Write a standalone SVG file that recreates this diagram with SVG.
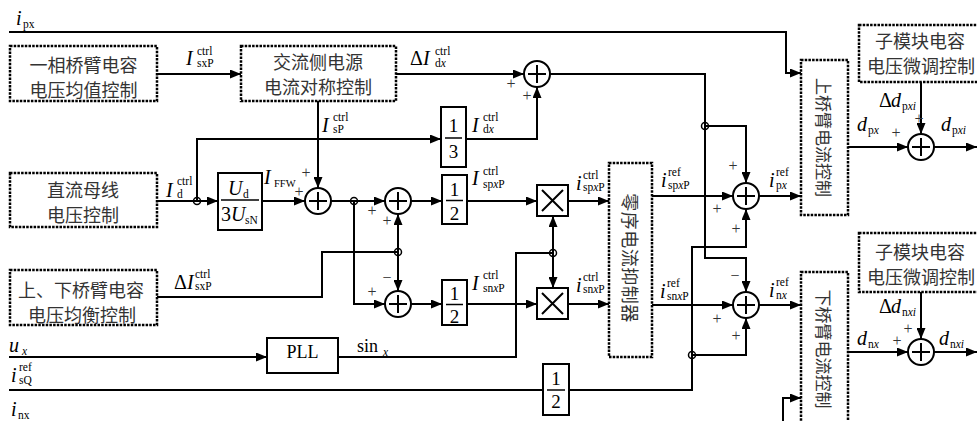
<svg xmlns="http://www.w3.org/2000/svg" width="977" height="421" viewBox="0 0 977 421">
<style>
.ln{stroke:#000;stroke-width:2;fill:none}
.ar{marker-end:url(#a)}
.db{fill:#fff;stroke:#000;stroke-width:2.5;stroke-dasharray:2.5 1.2}
.bx{fill:#fff;stroke:#000;stroke-width:2}
.jn{fill:none;stroke:#000;stroke-width:1.5}
.cn{font-family:"Noto Sans CJK SC",sans-serif;font-size:18px;text-anchor:middle;dominant-baseline:central;fill:#333}
.m{font-family:"Liberation Serif",serif;font-size:20px;font-style:italic}
.u{font-family:"Liberation Serif",serif;font-size:20px}
.s{font-family:"Liberation Serif",serif;font-size:11.5px}
.n{font-family:"Liberation Serif",serif;font-size:19px;text-anchor:middle}
.p{font-family:"Liberation Serif",serif;font-size:16px;text-anchor:middle;dominant-baseline:central;fill:#333}
.it{font-style:italic}
</style>
<defs>
<marker id="a" markerWidth="11" markerHeight="9" refX="11" refY="4.5" orient="auto" markerUnits="userSpaceOnUse"><path d="M0,0 L11,4.5 L0,9 z" fill="#000"/></marker>
</defs>

<g id="connectors">
<path class="ln ar" d="M9,32 H786 V73 H801"/>
<path class="ln ar" d="M157,74 H241"/>
<path class="ln ar" d="M396,74 H524"/>
<path class="ln ar" d="M467,139 H537 V87"/>
<path class="ln ar" d="M318,101 V188"/>
<path class="ln ar" d="M157,201 H218"/>
<path class="ln ar" d="M197,201 V139 H441"/>
<path class="ln ar" d="M262,201 H305"/>
<path class="ln ar" d="M331,201 H385"/>
<path class="ln ar" d="M354,201 V304 H385"/>
<path class="ln" d="M157,297 H322 V252 H398"/>
<path class="ln ar" d="M398,252 V214"/>
<path class="ln ar" d="M398,252 V291"/>
<path class="ln ar" d="M411,201 H442"/>
<path class="ln ar" d="M467,201 H537"/>
<path class="ln ar" d="M568,201 H609"/>
<path class="ln ar" d="M411,304 H442"/>
<path class="ln ar" d="M467,304 H537"/>
<path class="ln ar" d="M568,304 H609"/>
<path class="ln ar" d="M9,357 H267"/>
<path class="ln" d="M338,357 H516 V253 H553"/>
<path class="ln ar" d="M553,253 V216"/>
<path class="ln ar" d="M553,253 V288"/>
<path class="ln" d="M9,390 H543"/>
<path class="ln ar" d="M569,390 H692 V247 H746 V209"/>
<path class="ln ar" d="M692,355 H746 V318"/>
<path class="ln ar" d="M550,74 H705 V258 H746 V292"/>
<path class="ln ar" d="M705,126 H746 V183"/>
<path class="ln ar" d="M652,196 H733"/>
<path class="ln ar" d="M759,196 H801"/>
<path class="ln ar" d="M652,305 H733"/>
<path class="ln ar" d="M759,305 H801"/>
<path class="ln ar" d="M783,423 V398 H801"/>
<path class="ln ar" d="M848,147 H908"/>
<path class="ln ar" d="M934,147 H977"/>
<path class="ln ar" d="M921,82 V134"/>
<path class="ln ar" d="M848,352 H908"/>
<path class="ln ar" d="M934,352 H977"/>
<path class="ln ar" d="M921,292 V339"/>
<circle class="jn" cx="197" cy="201" r="3.5"/>
<circle class="jn" cx="354" cy="201" r="3.5"/>
<circle class="jn" cx="398" cy="252" r="3.5"/>
<circle class="jn" cx="553" cy="253" r="3.5"/>
<circle class="jn" cx="705" cy="126" r="3.5"/>
<circle class="jn" cx="692" cy="355" r="3.5"/>
</g>

<g id="avg-ctrl"><rect class="db" x="10" y="46" width="147" height="55"/>
<text class="cn" x="83.5" y="63.5">一相桥臂电容</text><text class="cn" x="83.5" y="88.5">电压均值控制</text></g>
<g id="ac-ctrl"><rect class="db" x="241" y="46" width="155" height="55"/>
<text class="cn" x="318" y="61">交流侧电源</text><text class="cn" x="318" y="86">电流对称控制</text></g>
<g id="dc-ctrl"><rect class="db" x="10" y="173" width="147" height="54"/>
<text class="cn" x="83" y="189">直流母线</text><text class="cn" x="83" y="214">电压控制</text></g>
<g id="bal-ctrl"><rect class="db" x="10" y="270" width="147" height="55"/>
<text class="cn" x="81" y="288.5">上、下桥臂电容</text><text class="cn" x="82" y="313.5">电压均衡控制</text></g>
<g id="zero-seq"><rect class="db" x="609" y="163" width="43" height="194"/>
<text class="cn" transform="translate(630.5,258) rotate(90)" style="letter-spacing:0.5px">零序电流抑制器</text></g>
<g id="upper-arm"><rect class="db" x="801" y="60" width="47" height="155"/>
<text class="cn" transform="translate(824.5,137.5) rotate(90)" style="font-size:17px">上桥臂电流控制</text></g>
<g id="lower-arm"><rect class="db" x="801" y="272" width="47" height="155"/>
<text class="cn" transform="translate(824.5,349) rotate(90)" style="font-size:17px">下桥臂电流控制</text></g>
<g id="sm-upper"><rect class="db" x="859" y="25" width="125" height="57"/>
<text class="cn" x="920" y="40">子模块电容</text><text class="cn" x="921" y="65">电压微调控制</text></g>
<g id="sm-lower"><rect class="db" x="859" y="233" width="125" height="59"/>
<text class="cn" x="920" y="250.5">子模块电容</text><text class="cn" x="921" y="275.5">电压微调控制</text></g>

<g id="gain-ud"><rect class="bx" x="218" y="173" width="44" height="57"/>
<text class="m" x="228" y="195">U</text><text class="s" x="243" y="198">d</text>
<path class="ln" d="M221,200 H259" style="stroke-width:1.5"/>
<text class="u" x="221" y="221">3</text><text class="m" x="231" y="221">U</text><text class="s" x="245" y="224">sN</text></g>
<g id="gain-third"><rect class="bx" x="441" y="107" width="25" height="60"/>
<text class="n" x="453.5" y="132">1</text><path class="ln" d="M445,138 H462" style="stroke-width:1.5"/><text class="n" x="453.5" y="158">3</text></g>
<g id="gain-half-p"><rect class="bx" x="442" y="175" width="25" height="49"/>
<text class="n" x="454.5" y="196">1</text><path class="ln" d="M446,200.5 H463" style="stroke-width:1.5"/><text class="n" x="454.5" y="220">2</text></g>
<g id="gain-half-n"><rect class="bx" x="442" y="280" width="25" height="45"/>
<text class="n" x="454.5" y="300">1</text><path class="ln" d="M446,304.5 H463" style="stroke-width:1.5"/><text class="n" x="454.5" y="323">2</text></g>
<g id="gain-half-q"><rect class="bx" x="543" y="364" width="26" height="51"/>
<text class="n" x="556" y="385">1</text><path class="ln" d="M547,390 H565" style="stroke-width:1.5"/><text class="n" x="556" y="408">2</text></g>
<g id="mult-p"><rect class="bx" x="537" y="185" width="31" height="31"/><path class="ln" d="M542,190 L563,211 M563,190 L542,211"/></g>
<g id="mult-n"><rect class="bx" x="537" y="288" width="31" height="31"/><path class="ln" d="M542,293 L563,314 M563,293 L542,314"/></g>
<g id="pll"><rect class="bx" x="267" y="338" width="71" height="35"/>
<text class="u" x="302.5" y="358" style="font-size:18px;text-anchor:middle">PLL</text></g>

<g id="sum-d"><circle class="bx" cx="537" cy="74" r="13"/><path class="ln" d="M528,74 H546 M537,65 V83"/></g>
<g id="sum-ffw"><circle class="bx" cx="318" cy="201" r="13"/><path class="ln" d="M309,201 H327 M318,192 V210"/></g>
<g id="sum-p"><circle class="bx" cx="398" cy="201" r="13"/><path class="ln" d="M389,201 H407 M398,192 V210"/></g>
<g id="sum-n"><circle class="bx" cx="398" cy="304" r="13"/><path class="ln" d="M389,304 H407 M398,295 V313"/></g>
<g id="sum-px"><circle class="bx" cx="746" cy="196" r="13"/><path class="ln" d="M737,196 H755 M746,187 V205"/></g>
<g id="sum-nx"><circle class="bx" cx="746" cy="305" r="13"/><path class="ln" d="M737,305 H755 M746,296 V314"/></g>
<g id="sum-dp"><circle class="bx" cx="921" cy="147" r="13"/><path class="ln" d="M912,147 H930 M921,138 V156"/></g>
<g id="sum-dn"><circle class="bx" cx="921" cy="352" r="13"/><path class="ln" d="M912,352 H930 M921,343 V361"/></g>

<g id="labels">
<text class="m" x="16" y="25">i</text><text class="s" x="23" y="28">px</text>
<text class="m" x="186" y="65">I</text><text class="s" x="197" y="55">ctrl</text><text class="s" x="197" y="67">sxP</text>
<text class="u" x="410" y="65">Δ</text><text class="m" x="423" y="65">I</text><text class="s" x="435" y="55">ctrl</text><text class="s" x="435" y="67">d<tspan class="it">x</tspan></text>
<text class="m" x="322" y="132">I</text><text class="s" x="333" y="121">ctrl</text><text class="s" x="333" y="133">sP</text>
<text class="m" x="472" y="132">I</text><text class="s" x="483" y="121">ctrl</text><text class="s" x="483" y="133">d<tspan class="it">x</tspan></text>
<text class="m" x="166" y="197">I</text><text class="s" x="177" y="185">ctrl</text><text class="s" x="177" y="198">d</text>
<text class="m" x="264" y="184">I</text><text class="s" x="274" y="187" style="font-size:10.5px">FFW</text>
<text class="u" x="174" y="289">Δ</text><text class="m" x="187" y="289">I</text><text class="s" x="195" y="278">ctrl</text><text class="s" x="195" y="290">sxP</text>
<text class="m" x="472" y="185">I</text><text class="s" x="483" y="175">ctrl</text><text class="s" x="483" y="188">sp<tspan class="it">x</tspan>P</text>
<text class="m" x="576" y="190">i</text><text class="s" x="583" y="179">ctrl</text><text class="s" x="583" y="191">sp<tspan class="it">x</tspan>P</text>
<text class="m" x="472" y="290">I</text><text class="s" x="483" y="279">ctrl</text><text class="s" x="483" y="292">sn<tspan class="it">x</tspan>P</text>
<text class="m" x="576" y="292">i</text><text class="s" x="583" y="281">ctrl</text><text class="s" x="583" y="293">sn<tspan class="it">x</tspan>P</text>
<text class="m" x="661" y="187">i</text><text class="s" x="668" y="176">ref</text><text class="s" x="668" y="189">sp<tspan class="it">x</tspan>P</text>
<text class="m" x="769" y="187">i</text><text class="s" x="776" y="176">ref</text><text class="s" x="776" y="189">p<tspan class="it">x</tspan></text>
<text class="m" x="660" y="298">i</text><text class="s" x="667" y="287">ref</text><text class="s" x="667" y="300">sn<tspan class="it">x</tspan>P</text>
<text class="m" x="769" y="297">i</text><text class="s" x="776" y="286">ref</text><text class="s" x="776" y="299">n<tspan class="it">x</tspan></text>
<text class="m" x="9" y="352">u</text><text class="s it" x="22" y="355">x</text>
<text class="m" x="11" y="382">i</text><text class="s" x="19" y="371">ref</text><text class="s" x="19" y="384">sQ</text>
<text class="m" x="11" y="416">i</text><text class="s" x="18" y="419">nx</text>
<text class="u" x="357" y="352" style="font-size:18px">sin</text><text class="s it" x="383" y="356">x</text>
<text class="m" x="857" y="131">d</text><text class="s" x="868" y="134">p<tspan class="it">x</tspan></text>
<text class="u" x="879" y="107">Δ</text><text class="m" x="891" y="107">d</text><text class="s" x="902" y="110">p<tspan class="it">xi</tspan></text>
<text class="m" x="941" y="131">d</text><text class="s" x="952" y="134">p<tspan class="it">xi</tspan></text>
<text class="m" x="857" y="345">d</text><text class="s" x="868" y="348">n<tspan class="it">x</tspan></text>
<text class="u" x="879" y="313">Δ</text><text class="m" x="891" y="313">d</text><text class="s" x="902" y="316">n<tspan class="it">xi</tspan></text>
<text class="m" x="939" y="345">d</text><text class="s" x="950" y="348">n<tspan class="it">xi</tspan></text>
</g>
<g id="signs">
<text class="p" x="511" y="83">+</text><text class="p" x="527" y="95">+</text>
<text class="p" x="306" y="172">+</text><text class="p" x="299" y="191">+</text>
<text class="p" x="372" y="210">+</text><text class="p" x="387" y="220">+</text>
<text class="p" x="387" y="277">−</text><text class="p" x="372" y="291">+</text>
<text class="p" x="733" y="165">+</text><text class="p" x="717" y="208">+</text><text class="p" x="736" y="228">+</text>
<text class="p" x="735" y="275">−</text><text class="p" x="717" y="318">+</text><text class="p" x="736" y="335">+</text>
<text class="p" x="919" y="118">+</text><text class="p" x="896" y="132">+</text>
<text class="p" x="908" y="328">+</text><text class="p" x="897" y="340">+</text>
</g>
</svg>
